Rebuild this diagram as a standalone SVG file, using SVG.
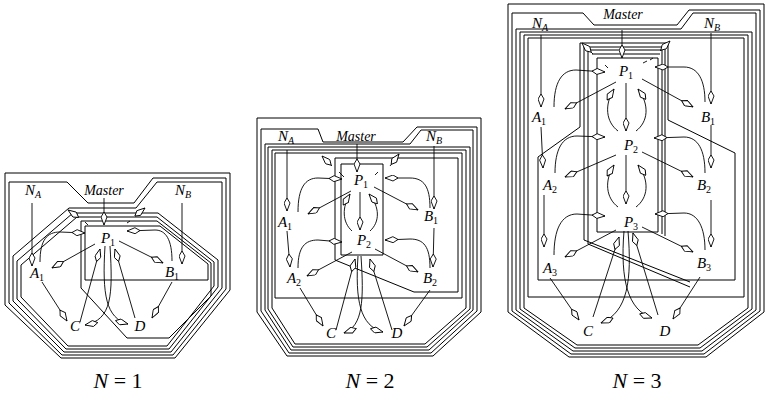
<svg xmlns="http://www.w3.org/2000/svg" width="768" height="394" viewBox="0 0 768 394">
<style>
.l{fill:none;stroke:#000;stroke-width:1}
.c{fill:none;stroke:#000;stroke-width:0.9;marker-end:url(#k)}
.d{fill:none;stroke:#000;stroke-width:0.9}
.t{font-family:"Liberation Serif","Times New Roman",serif;font-style:italic;font-size:15px;text-anchor:middle}
.m{font-size:14px}
.s{font-size:10px;font-style:normal}
.si{font-size:10px}
.n{font-family:"Liberation Serif","Times New Roman",serif;font-size:22px;text-anchor:middle}
</style>
<defs>
<marker id="k" viewBox="0 0 14 7" refX="13.5" refY="3.5" markerWidth="14" markerHeight="7" markerUnits="userSpaceOnUse" orient="auto">
<path d="M0.5,3.5 L5.5,0.5 L13.5,3.5 L5.5,6.5 Z" fill="#fff" stroke="#000" stroke-width="0.9"/>
</marker>
</defs>
<rect width="768" height="394" fill="#fff"/>

<g id="frames1">
<path class="l" d="M5,173 H230 V290 L175,358 H61 L5,305 Z"/>
<path class="l" d="M9,182 H67 L88,203 H134 L153,178 H226 V289 L173,355 H62 L9,303 Z"/>
<path class="l" d="M157,182 H222 V288 L171,352 H64 L13,301 V256 L69,208 H136 Z"/>
<path class="l" d="M73,213 H158 L218,260 V287 L169,349 H66 L17,299 V261 Z"/>
<path class="l" d="M77,217 H157 L214,262 V286 L167,346 H68 L21,297 V265 Z"/>
<path class="l" d="M81,221 H157 L211,263 V296 L169,338 H127 L81,288 Z"/>
<path class="l" d="M85,226 H160 L208,264 V280 H85 Z"/>
</g>

<g id="frames2">
<path class="l" d="M257,118 H481 V312 L433,356 H287 L257,312 Z"/>
<path class="l" d="M261,129 H318 L323,142 H403 L417,127 H477 V311 L431,353 H289 L261,311 Z"/>
<path class="l" d="M421,130 H473 V310 L429,350 H291 L265,310 V144 H410 Z"/>
<path class="l" d="M268,147 H470 V309 L427,347 H293 L268,309 Z"/>
<path class="l" d="M272,150 H466 V308 L425,344 H295 L272,308 Z"/>
<path class="l" d="M275,153 H462 V298 H275 Z"/>
<path class="l" d="M335,158 H458 V292 H414 L335,260 Z"/>
<path class="l" d="M341,164 H383 V255 H341 Z"/>
</g>

<g id="frames3">
<path class="l" d="M508,4 H764 V312 L706,357 H569 L508,312 Z"/>
<path class="l" d="M512,13 H583 L594,25 H677 L689,10 H760 V311 L704,354 H571 L512,311 Z"/>
<path class="l" d="M693,13 H756 V310 L702,351 H573 L516,310 V29 H681 Z"/>
<path class="l" d="M520,32 H752 V309 L700,348 H575 L520,309 Z"/>
<path class="l" d="M524,35 H748 V308 L698,345 H577 L524,308 Z"/>
<path class="l" d="M528,38 H744 V297 H528 Z"/>
<path class="l" d="M580,43 H668 V120 L735,153 V280 H538 V157 L580,127 Z"/>
<path class="l" d="M690,282 L584,240 V47 H665 V236"/>
<path class="l" d="M690,287 L588,244 V50 H662 V234"/>
<path class="l" d="M592,54 H660"/>
<path class="l" d="M597,58 H658 V232 H597 Z"/>
</g>

<g id="connectors">
<path class="c" d="M32,203 L32,266"/>
<path class="c" d="M104,198 L104,225"/>
<path class="c" d="M182,203 L182,264"/>
<path class="c" d="M95,244 L52,268"/>
<path class="c" d="M119,241 L163,263"/>
<path class="c" d="M40,262 C40,240 47,232 60,232 L85,233"/>
<path class="c" d="M172,261 C172,240 166,230 155,230 L127,231"/>
<path class="c" d="M80,322 L100,249"/>
<path class="c" d="M135,318 L115,249"/>
<path class="c" d="M110,246 C113,295 112,320 85,325"/>
<path class="c" d="M105,246 C102,295 106,318 128,324"/>
<path class="c" d="M42,282 L67,321"/>
<path class="c" d="M172,282 L152,318"/>
<path class="c" d="M78,217 L68,210"/>
<path class="d" d="M85,222 L88,225"/>
<path class="c" d="M135,216 L145,208"/>
<path class="d" d="M127,223 L130,221"/>

<path class="c" d="M287,150 L287,211"/>
<path class="c" d="M287,231 L290,267"/>
<path class="c" d="M357,144 L357,172"/>
<path class="c" d="M434,146 L434,209"/>
<path class="c" d="M434,228 L433,267"/>
<path class="c" d="M351,191 L308,214"/>
<path class="c" d="M374,187 L418,210"/>
<path class="c" d="M298,212 C298,188 305,178 318,178 L342,179"/>
<path class="c" d="M430,208 C430,187 424,178 410,178 L385,178"/>
<path class="c" d="M360,192 L360,230"/>
<path class="c" d="M352,231 C342,222 342,207 350,194"/>
<path class="c" d="M370,231 C380,222 380,207 369,194"/>
<path class="c" d="M298,268 C298,247 305,240 318,240 L342,242"/>
<path class="c" d="M430,268 C430,247 424,239 410,239 L385,240"/>
<path class="c" d="M352,252 L307,276"/>
<path class="c" d="M375,249 L418,272"/>
<path class="c" d="M300,288 L323,326"/>
<path class="c" d="M430,290 L404,326"/>
<path class="c" d="M336,330 L355,259"/>
<path class="c" d="M392,330 L370,259"/>
<path class="c" d="M361,256 C364,300 363,326 344,333"/>
<path class="c" d="M358,256 C355,300 360,326 383,332"/>
<path class="c" d="M332,166 L322,156"/>
<path class="d" d="M339,172 L344,177"/>
<path class="c" d="M390,166 L399,154"/>
<path class="d" d="M375,175 L378,172"/>

<path class="c" d="M541,35 L541,107"/>
<path class="c" d="M541,127 L543,168"/>
<path class="c" d="M544,195 L544,247"/>
<path class="c" d="M622,30 L622,58"/>
<path class="c" d="M711,33 L711,104"/>
<path class="c" d="M711,125 L711,168"/>
<path class="c" d="M711,200 L711,247"/>
<path class="c" d="M626,83 L626,131"/>
<path class="c" d="M626,155 L626,204"/>
<path class="c" d="M618,131 C606,122 604,105 614,89"/>
<path class="c" d="M636,131 C648,122 650,105 638,89"/>
<path class="c" d="M618,207 C606,198 604,181 614,165"/>
<path class="c" d="M636,207 C648,198 650,181 638,165"/>
<path class="c" d="M554,107 C554,82 562,70 576,70 L605,72"/>
<path class="c" d="M705,102 C705,80 698,67 684,67 L655,67"/>
<path class="c" d="M616,82 L565,109"/>
<path class="c" d="M642,79 L693,107"/>
<path class="c" d="M555,173 C555,150 562,136 577,136 L605,137"/>
<path class="c" d="M705,173 C705,150 698,137 684,137 L654,138"/>
<path class="c" d="M616,155 L565,177"/>
<path class="c" d="M642,152 L693,177"/>
<path class="c" d="M554,255 C554,230 561,214 577,214 L605,216"/>
<path class="c" d="M705,250 C705,228 698,213 684,213 L655,214"/>
<path class="c" d="M616,230 L565,257"/>
<path class="c" d="M642,227 L693,252"/>
<path class="c" d="M550,278 L579,320"/>
<path class="c" d="M700,277 L673,319"/>
<path class="c" d="M593,317 L619,237"/>
<path class="c" d="M658,315 L633,233"/>
<path class="c" d="M628,231 C632,280 628,312 601,323"/>
<path class="c" d="M624,231 C620,280 628,310 652,318"/>
<path class="c" d="M593,54 L582,43"/>
<path class="d" d="M605,65 L608,68"/>
<path class="c" d="M660,51 L670,41"/>
<path class="d" d="M643,63 L647,61"/>
<path class="d" d="M650,60 L653,58"/>
</g>

<g id="p1-NA"><text class="t" x="33" y="195">N<tspan class="si" dy="3">A</tspan></text></g>
<g id="p1-Master"><text class="t m" x="104" y="195">Master</text></g>
<g id="p1-NB"><text class="t" x="183" y="195">N<tspan class="si" dy="3">B</tspan></text></g>
<g id="p1-P1"><text class="t" x="108" y="243">P<tspan class="s" dy="3">1</tspan></text></g>
<g id="p1-A1"><text class="t" x="37" y="278">A<tspan class="s" dy="3">1</tspan></text></g>
<g id="p1-B1"><text class="t" x="172" y="277">B<tspan class="s" dy="3">1</tspan></text></g>
<g id="p1-C"><text class="t" x="75" y="331">C</text></g>
<g id="p1-D"><text class="t" x="140" y="331">D</text></g>

<g id="p2-NA"><text class="t" x="286" y="141">N<tspan class="si" dy="3">A</tspan></text></g>
<g id="p2-Master"><text class="t m" x="356" y="141">Master</text></g>
<g id="p2-NB"><text class="t" x="434" y="141">N<tspan class="si" dy="3">B</tspan></text></g>
<g id="p2-P1"><text class="t" x="361" y="185">P<tspan class="s" dy="3">1</tspan></text></g>
<g id="p2-A1"><text class="t" x="285" y="227">A<tspan class="s" dy="3">1</tspan></text></g>
<g id="p2-B1"><text class="t" x="431" y="221">B<tspan class="s" dy="3">1</tspan></text></g>
<g id="p2-P2"><text class="t" x="364" y="245">P<tspan class="s" dy="3">2</tspan></text></g>
<g id="p2-A2"><text class="t" x="294" y="283">A<tspan class="s" dy="3">2</tspan></text></g>
<g id="p2-B2"><text class="t" x="430" y="283">B<tspan class="s" dy="3">2</tspan></text></g>
<g id="p2-C"><text class="t" x="331" y="338">C</text></g>
<g id="p2-D"><text class="t" x="397" y="338">D</text></g>

<g id="p3-NA"><text class="t" x="540" y="28">N<tspan class="si" dy="3">A</tspan></text></g>
<g id="p3-Master"><text class="t m" x="623" y="19">Master</text></g>
<g id="p3-NB"><text class="t" x="712" y="28">N<tspan class="si" dy="3">B</tspan></text></g>
<g id="p3-P1"><text class="t" x="626" y="76">P<tspan class="s" dy="3">1</tspan></text></g>
<g id="p3-A1"><text class="t" x="539" y="122">A<tspan class="s" dy="3">1</tspan></text></g>
<g id="p3-B1"><text class="t" x="708" y="122">B<tspan class="s" dy="3">1</tspan></text></g>
<g id="p3-P2"><text class="t" x="631" y="150">P<tspan class="s" dy="3">2</tspan></text></g>
<g id="p3-A2"><text class="t" x="550" y="190">A<tspan class="s" dy="3">2</tspan></text></g>
<g id="p3-B2"><text class="t" x="704" y="190">B<tspan class="s" dy="3">2</tspan></text></g>
<g id="p3-P3"><text class="t" x="631" y="227">P<tspan class="s" dy="3">3</tspan></text></g>
<g id="p3-A3"><text class="t" x="550" y="273">A<tspan class="s" dy="3">3</tspan></text></g>
<g id="p3-B3"><text class="t" x="704" y="268">B<tspan class="s" dy="3">3</tspan></text></g>
<g id="p3-C"><text class="t" x="588" y="336">C</text></g>
<g id="p3-D"><text class="t" x="665" y="336">D</text></g>

<g id="cap1"><text class="n" x="118" y="388"><tspan font-style="italic">N</tspan> = 1</text></g>
<g id="cap2"><text class="n" x="370" y="388"><tspan font-style="italic">N</tspan> = 2</text></g>
<g id="cap3"><text class="n" x="637" y="388"><tspan font-style="italic">N</tspan> = 3</text></g>
</svg>
